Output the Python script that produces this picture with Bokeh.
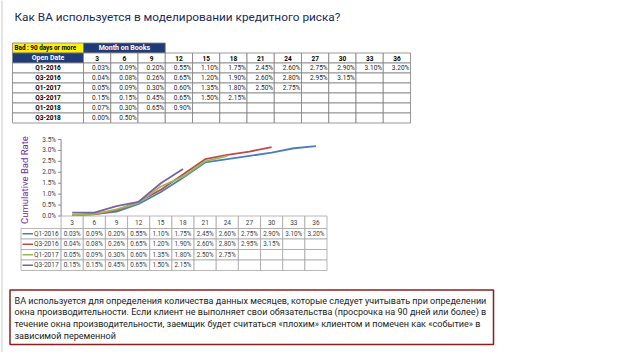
import math
from bokeh.plotting import figure
from bokeh.models import Range1d
from bokeh.core.properties import value
from bokeh.embed import file_html
from bokeh.resources import INLINE

# ---------------- data ----------------
title_text = "Как BA используется в моделировании кредитного риска?"
months = ["3", "6", "9", "12", "15", "18", "21", "24", "27", "30", "33", "36"]
cohorts = ["Q1-2016", "Q3-2016", "Q1-2017", "Q3-2017", "Q1-2018", "Q3-2018"]
q1_2016 = [0.03, 0.09, 0.20, 0.55, 1.10, 1.75, 2.45, 2.60, 2.75, 2.90, 3.10, 3.20]
q3_2016 = [0.04, 0.08, 0.26, 0.65, 1.20, 1.90, 2.60, 2.80, 2.95, 3.15]
q1_2017 = [0.05, 0.09, 0.30, 0.60, 1.35, 1.80, 2.50, 2.75]
q3_2017 = [0.15, 0.15, 0.45, 0.65, 1.50, 2.15]
q1_2018 = [0.07, 0.30, 0.65, 0.90]
q3_2018 = [0.00, 0.50]
all_series = [q1_2016, q3_2016, q1_2017, q3_2017, q1_2018, q3_2018]
chart_series = ["Q1-2016", "Q3-2016", "Q1-2017", "Q3-2017"]
chart_colors = ["#4A7EBB", "#BE4B48", "#98B954", "#7D60A0"]
y_ticks = [0.0, 0.005, 0.01, 0.015, 0.02, 0.025, 0.03, 0.035]
y_tick_labels = ["0.0%", "0.5%", "1.0%", "1.5%", "2.0%", "2.5%", "3.0%", "3.5%"]
y_axis_title = "Cumulative Bad Rate"
bad_label = "Bad : 90 days or more"
mob_label = "Month on Books"
open_label = "Open Date"
body_lines = [
    "ВА используется для определения количества данных месяцев, которые следует учитывать при определении",
    "окна производительности. Если клиент не выполняет свои обязательства (просрочка на 90 дней или более) в",
    "течение окна производительности, заемщик будет считаться «плохим» клиентом и помечен как «событие» в",
    "зависимой переменной",
]

FONT = value("Roboto")
NAVY = "#1F3C78"
GRID = "#7F7F7F"
LGRID = "#A6A6A6"
TXT = "#262626"

# ---------------- geometry (picture pixels) ----------------
W, H = 632, 352
PX0, PX1, PY0, PY1 = 0, W, 0, H
chart_x0 = 60.6            # left edge of the plot area
chart_cw = 22.16           # width of one month category
chart_ytop, chart_ybot = 139.0, 215.5
chart_ymax = 0.035

# chart scales as extra ranges so that months/rates map into the plot area
mpp = 3 / chart_cw                       # months per pixel
m_first = int(months[0])
m_center0 = chart_x0 + 0.5 * chart_cw    # pixel of first month
cx_start = m_first - (m_center0 - PX0) * mpp
cx_end = m_first + (PX1 - m_center0) * mpp
k = chart_ymax / (chart_ybot - chart_ytop)   # rate per pixel
cy_start = 0 - (PY1 - chart_ybot) * k        # bottom of frame
cy_end = chart_ymax + (chart_ytop - PY0) * k  # top of frame

p = figure(width=W, height=H, x_range=Range1d(PX0, PX1), y_range=Range1d(PY1, PY0),
           output_backend="svg", toolbar_location=None, title=None,
           x_axis_location=None, y_axis_location=None,
           min_border_left=0, min_border_right=0, min_border_top=0, min_border_bottom=0)
p.extra_x_ranges = {"cx": Range1d(cx_start, cx_end)}
p.extra_y_ranges = {"cy": Range1d(cy_start, cy_end)}
p.xgrid.visible = False
p.ygrid.visible = False
p.outline_line_color = None
p.background_fill_color = "white"
p.border_fill_color = "white"

# faint slide edge on the left
p.segment(x0=[1.5], x1=[1.5], y0=[0], y1=[H], line_color="#DDDDDD", line_width=1.5)

# ---------------- title ----------------
p.text(x=[14], y=[16], text=[title_text], text_font=FONT, text_font_size="11.8px",
       text_color="#1B2A5C", text_baseline="middle", text_align="left")

# ---------------- top table ----------------
tab_l, tab_split = 12, 83
col_w = (410 - 83) / 12
row_h = 10
r0 = 42.5
p.quad(left=[tab_l], right=[tab_split], top=[r0], bottom=[r0 + row_h], fill_color="#FFF200", line_color=GRID, line_width=0.8)
p.quad(left=[tab_split], right=[tab_split + 3 * col_w], top=[r0], bottom=[r0 + row_h], fill_color=NAVY, line_color=GRID, line_width=0.8)
p.text(x=[tab_l + 2], y=[r0 + row_h / 2], text=[bad_label], text_font=FONT, text_font_size="6.3px",
       text_font_style="bold", text_color="#000000", text_baseline="middle", text_align="left")
p.text(x=[tab_split + 1.5 * col_w], y=[r0 + row_h / 2], text=[mob_label], text_font=FONT, text_font_size="7px",
       text_font_style="bold", text_color="white", text_baseline="middle", text_align="center")
r1 = r0 + row_h
p.quad(left=[tab_l], right=[tab_split], top=[r1], bottom=[r1 + row_h], fill_color=NAVY, line_color=GRID, line_width=0.8)
p.text(x=[(tab_l + tab_split) / 2], y=[r1 + row_h / 2], text=[open_label], text_font=FONT, text_font_size="7px",
       text_font_style="bold", text_color="white", text_baseline="middle", text_align="center")
hl = [tab_split + i * col_w for i in range(12)]
p.quad(left=hl, right=[v + col_w for v in hl], top=[r1] * 12, bottom=[r1 + row_h] * 12,
       fill_color="white", line_color=GRID, line_width=0.8)
p.text(x=[v + col_w / 2 for v in hl], y=[r1 + row_h / 2] * 12, text=months, text_font=FONT, text_font_size="6.5px",
       text_font_style="bold", text_color="#000000", text_baseline="middle", text_align="center")
L, R, T, B = [], [], [], []
cx, cy, ct = [], [], []
lx, ly = [], []
for i, (name, vals) in enumerate(zip(cohorts, all_series)):
    top = r1 + row_h * (i + 1)
    L.append(tab_l); R.append(tab_split); T.append(top); B.append(top + row_h)
    lx.append((tab_l + tab_split) / 2); ly.append(top + row_h / 2)
    for j in range(12):
        L.append(tab_split + j * col_w); R.append(tab_split + (j + 1) * col_w); T.append(top); B.append(top + row_h)
        if j < len(vals):
            cx.append(tab_split + (j + 1) * col_w - 1.2); cy.append(top + row_h / 2); ct.append(f"{vals[j]:.2f}%")
p.quad(left=L, right=R, top=T, bottom=B, fill_color="white", line_color=GRID, line_width=0.8)
p.text(x=lx, y=ly, text=cohorts, text_font=FONT, text_font_size="6.5px", text_font_style="bold",
       text_color="#000000", text_baseline="middle", text_align="center")
p.text(x=cx, y=cy, text=ct, text_font=FONT, text_font_size="6.5px",
       text_color=TXT, text_baseline="middle", text_align="right")

# ---------------- chart ----------------
m_vals = [int(m) for m in months]
x_left = m_first - 1.5            # left edge of plot area in month units
tick_len = 3 * mpp
p.segment(x0=[x_left], x1=[x_left], y0=[0], y1=[chart_ymax], line_color="#868686", line_width=1,
          x_range_name="cx", y_range_name="cy")
p.segment(x0=[x_left - tick_len] * len(y_ticks), x1=[x_left] * len(y_ticks), y0=y_ticks, y1=y_ticks,
          line_color="#868686", line_width=1, x_range_name="cx", y_range_name="cy")
p.text(x=[x_left - 5 * mpp] * len(y_ticks), y=y_ticks, text=y_tick_labels, text_font=FONT, text_font_size="6.5px",
       text_color="#404040", text_baseline="middle", text_align="right", x_range_name="cx", y_range_name="cy")
p.text(x=[x_left - 37 * mpp], y=[chart_ymax * 0.47], text=[y_axis_title], angle=math.pi / 2, text_font=FONT,
       text_font_size="9.5px", text_color="#7030A0", text_baseline="middle", text_align="center",
       x_range_name="cx", y_range_name="cy")
for name, color in zip(chart_series, chart_colors):
    vals = all_series[cohorts.index(name)]
    p.line(x=m_vals[:len(vals)], y=[v / 100 for v in vals], line_color=color, line_width=1.8,
           x_range_name="cx", y_range_name="cy")

# ---------------- chart data table ----------------
bt_l = 20.5
bh_top, bh_bot = chart_ybot, 228
brow = 10.5
xs = [chart_x0 + j * chart_cw for j in range(12)]
p.quad(left=xs, right=[v + chart_cw for v in xs], top=[bh_top] * 12, bottom=[bh_bot] * 12,
       fill_color="white", line_color=LGRID, line_width=0.8)
p.text(x=[v + chart_cw / 2 for v in xs], y=[(bh_top + bh_bot) / 2] * 12, text=months, text_font=FONT,
       text_font_size="6.5px", text_color="#404040", text_baseline="middle", text_align="center")
L, R, T, B = [], [], [], []
cx, cy, ct = [], [], []
for i, name in enumerate(chart_series):
    vals = all_series[cohorts.index(name)]
    top = bh_bot + brow * i
    L.append(bt_l); R.append(chart_x0); T.append(top); B.append(top + brow)
    for j in range(12):
        L.append(chart_x0 + j * chart_cw); R.append(chart_x0 + (j + 1) * chart_cw); T.append(top); B.append(top + brow)
        if j < len(vals):
            cx.append(chart_x0 + (j + 0.5) * chart_cw); cy.append(top + brow / 2); ct.append(f"{vals[j]:.2f}%")
p.quad(left=L, right=R, top=T, bottom=B, fill_color="white", line_color=LGRID, line_width=0.8)
p.text(x=cx, y=cy, text=ct, text_font=FONT, text_font_size="6.3px", text_color="#404040",
       text_baseline="middle", text_align="center")
ycent = [bh_bot + brow * (i + 0.5) for i in range(len(chart_series))]
p.segment(x0=[bt_l + 1.5] * 4, x1=[bt_l + 12] * 4, y0=ycent, y1=ycent, line_color=chart_colors, line_width=1.5)
p.text(x=[bt_l + 13] * 4, y=ycent, text=chart_series, text_font=FONT, text_font_size="6.5px",
       text_color="#404040", text_baseline="middle", text_align="left")

# ---------------- text box ----------------
p.quad(left=[9.5], right=[493], top=[289.5], bottom=[344], fill_color="white", line_color="#8B1E1E", line_width=1.5)
p.text(x=[14] * 4, y=[300 + 11.7 * i for i in range(4)], text=body_lines, text_font=FONT,
       text_font_size="9.05px", text_color="#222222", text_baseline="middle", text_align="left")

open("out.html", "w").write(file_html(p, INLINE))
